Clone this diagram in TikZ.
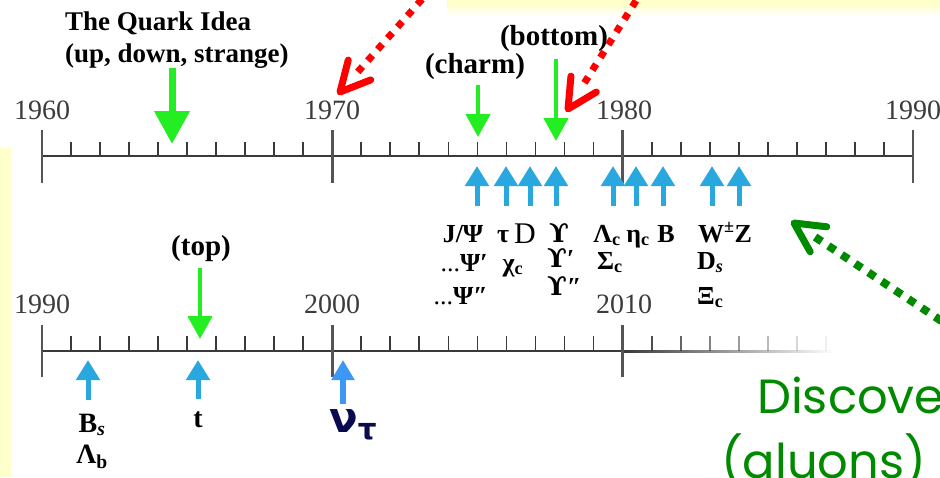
\documentclass[tikz,border=0pt]{standalone}
\usepackage{fontspec}
\setmainfont{Liberation Serif}
\newfontfamily\discfont{Poppins}
\newfontfamily\symfont{DejaVu Serif}
\newfontfamily\nufont{DejaVu Sans}
\usetikzlibrary{arrows.meta,calc}
\definecolor{axisgray}{HTML}{3A3A3A}
\definecolor{tickgray}{HTML}{555555}
\definecolor{yeargray}{HTML}{3C3C3C}
\definecolor{brightgreen}{HTML}{22EE22}
\definecolor{skyblue}{HTML}{29A8DF}
\definecolor{nublue}{HTML}{3D97F5}
\definecolor{paleyellow}{HTML}{FFFFCC}
\definecolor{discgreen}{HTML}{008A00}
\definecolor{dotred}{HTML}{FF0000}
\definecolor{navyink}{HTML}{0A0A50}
\newcommand{\ups}{{\symfont\bfseries ϒ}}
\begin{document}
\begin{tikzpicture}[x=1pt,y=-1pt,
  year/.style={font=\fontsize{28}{30}\selectfont, text=yeargray, anchor=base, inner sep=0},
  lab/.style={font=\bfseries\fontsize{26}{28}\selectfont, anchor=base, inner sep=0},
  plab/.style={font=\bfseries\fontsize{29}{31}\selectfont, anchor=base, inner sep=0},
  blab/.style={font=\bfseries\fontsize{28}{30}\selectfont, anchor=base, inner sep=0},
  axisline/.style={draw=axisgray, line width=2pt},
  majortick/.style={draw=tickgray, line width=2.5pt},
  minortick/.style={draw=axisgray, line width=1.8pt},
  greenarrow/.style={draw=brightgreen, line width=4.5pt, -{Triangle[width=24pt,length=23pt]}},
  bigarrow/.style={draw=brightgreen, line width=7pt, -{Triangle[width=34pt,length=33pt]}},
  cyanarrow/.style={draw=skyblue, line width=5pt, -{Triangle[width=23pt,length=20pt]}},
  nuarrow/.style={draw=nublue, line width=6pt, -{Triangle[width=22pt,length=20pt]}},
  reddots/.style={draw=dotred, line width=7pt, dash pattern=on 7pt off 8pt},
  redhead/.style={draw=dotred, line width=7pt, line cap=round, line join=round},
  greendots/.style={draw=discgreen, line width=8pt, dash pattern=on 8pt off 8pt},
  greenhead/.style={draw=discgreen, line width=7pt, line cap=round, line join=round},
  disc/.style={font=\discfont\fontsize{48}{58}\selectfont, text=discgreen, anchor=base west, inner sep=0}
]
\useasboundingbox (0,0) rectangle (940,477);
\clip (0,0) rectangle (940,477);
\fill[white] (0,0) rectangle (940,477);
% yellow backgrounds
\fill[paleyellow] (447,0) rectangle (940,8);
\fill[paleyellow!45] (447,8) rectangle (940,13);
\fill[paleyellow] (0,148) rectangle (11,477);

% ---------- top axis 1960-1990
\draw[axisline] (42,156) -- (913,156);
\foreach \i in {1,...,29} { \draw[minortick] ({42+\i*29.03},142) -- ({42+\i*29.03},156); }
\foreach \i in {0,1,2,3} { \draw[majortick] ({42+\i*290.3},130) -- ({42+\i*290.3},183); }
\node[year] (y1960) at (42,119) {1960};
\node[year] (y1970) at (332,119) {1970};
\node[year] (y1980) at (624,119) {1980};
\node[year] (y1990a) at (913,119) {1990};

% ---------- bottom axis 1990-2016
\draw[axisline] (42,351) -- (624,351);
\shade[left color=axisgray, right color=white] (624,350) rectangle (835,352);
\foreach \i in {1,...,19} { \draw[minortick] ({42+\i*29.03},336) -- ({42+\i*29.03},351); }
\foreach \i/\o in {21/0.9,22/0.78,23/0.64,24/0.5,25/0.35,26/0.2,27/0.08} { \draw[minortick, draw opacity=\o] ({42+\i*29.03},336) -- ({42+\i*29.03},351); }
\foreach \i in {0,1,2} { \draw[majortick] ({42+\i*290.3},325) -- ({42+\i*290.3},377); }
\node[year] (y1990b) at (42,313) {1990};
\node[year] (y2000) at (332,313) {2000};
\node[year] (y2010) at (624,313) {2010};

% ---------- green labels and arrows
\node[font=\bfseries\fontsize{27}{29}\selectfont, anchor=base west, inner sep=0] (quark1) at (65,30) {The Quark Idea};
\node[font=\bfseries\fontsize{27}{29}\selectfont, anchor=base west, inner sep=0] (quark2) at (65,62) {(up, down, strange)};
\coordinate (qs) at (172,68); \coordinate (qt) at (172,144);
\draw[bigarrow] (qs) -- (qt);
\node[plab] (charm) at (475,73) {(charm)};
\coordinate (cs) at (478,85); \coordinate (ct) at (478,137);
\draw[greenarrow] (cs) -- (ct);
\node[plab] (bottom) at (554,45) {(bottom)};
\coordinate (bs) at (556,59); \coordinate (bt) at (556,141);
\draw[greenarrow] (bs) -- (bt);
\node[plab] (top) at (201,255) {(top)};
\coordinate (ts) at (200,268); \coordinate (tt) at (200,339);
\draw[greenarrow] (ts) -- (tt);

% ---------- cyan arrows top row
\foreach \x [count=\i] in {477,506,530,556,613,636,663,712,739} {
  \coordinate (ub\i) at (\x,206); \coordinate (ut\i) at (\x,166);
  \draw[cyanarrow] (ub\i) -- (ut\i);
}
% ---------- cyan arrows bottom row
\coordinate (bsb) at (88,400); \coordinate (bst) at (88,360);
\draw[cyanarrow] (bsb) -- (bst);
\coordinate (tb) at (198,399); \coordinate (tp) at (198,360);
\draw[cyanarrow] (tb) -- (tp);
\coordinate (nb) at (343,404); \coordinate (nt) at (343,360);
\draw[nuarrow] (nb) -- (nt);

% ---------- particle labels
\node[lab] (jpsi) at (463,242) {J/Ψ};
\node[lab] (tau) at (503,242) {τ};
\node[font=\fontsize{30}{32}\selectfont, anchor=base, inner sep=0] (dmes) at (525,243) {D};
\node[lab] (ups1) at (559,242) {\ups};
\node[lab] (lamc) at (607,242) {Λ\textsubscript{c}};
\node[lab] (etac) at (638,242) {η\textsubscript{c}};
\node[lab] (bmes) at (666,242) {B};
\node[lab] (wz) at (725,242) {W\textsuperscript{±}Z};

\node[lab, anchor=base east] (psi2) at (488,271) {{\mdseries...}Ψ′};
\node[lab] (chic) at (513,271) {χ\textsubscript{c}};
\node[lab, anchor=base west] (ups2) at (547,267) {\ups′};
\node[lab, anchor=base west] (sigc) at (597,269) {Σ\textsubscript{c}};
\node[lab, anchor=base west] (ds) at (697,269) {D\textsubscript{\itshape s}};

\node[lab, anchor=base east] (psi3) at (488,304) {{\mdseries...}Ψ″};
\node[lab, anchor=base west] (ups3) at (547,295) {\ups″};
\node[lab, anchor=base west] (xic) at (697,304) {Ξ\textsubscript{c}};

\node[blab] (bsl) at (92,432) {B\textsubscript{\itshape s}};
\node[blab] (lamb) at (92,463) {Λ\textsubscript{b}};
\node[blab] (tq) at (198,427) {t};
\node[font=\nufont\bfseries\fontsize{42}{44}\selectfont, text=navyink, anchor=base west, inner sep=0] (nutau) at (329,432) {ν\textsubscript{τ}};

% ---------- red dotted arrows
\coordinate (r1s) at (432,-12); \coordinate (r1t) at (340,92);
\draw[reddots] (r1s) -- ($(r1t)!24pt!(r1s)$);
\draw[redhead] ($(r1t)!33pt!27:(r1s)$) -- (r1t) -- ($(r1t)!33pt!-27:(r1s)$);
\coordinate (r2s) at (644,-12); \coordinate (r2t) at (568,109);
\draw[reddots] (r2s) -- ($(r2t)!24pt!(r2s)$);
\draw[redhead] ($(r2t)!33pt!27:(r2s)$) -- (r2t) -- ($(r2t)!33pt!-27:(r2s)$);

% ---------- green dotted arrow
\coordinate (g1s) at (955,330); \coordinate (g1t) at (794,223);
\draw[greendots] (g1s) -- ($(g1t)!22pt!(g1s)$);
\draw[greenhead] ($(g1t)!33pt!27:(g1s)$) -- (g1t) -- ($(g1t)!33pt!-27:(g1s)$);

% ---------- discovery text (cut by the frame, as in the reference)
\node[disc] (disc1) at (757,413) {Discove};
\node[disc] (disc2) at (721,478) {(gluons) c};
\end{tikzpicture}
\end{document}
